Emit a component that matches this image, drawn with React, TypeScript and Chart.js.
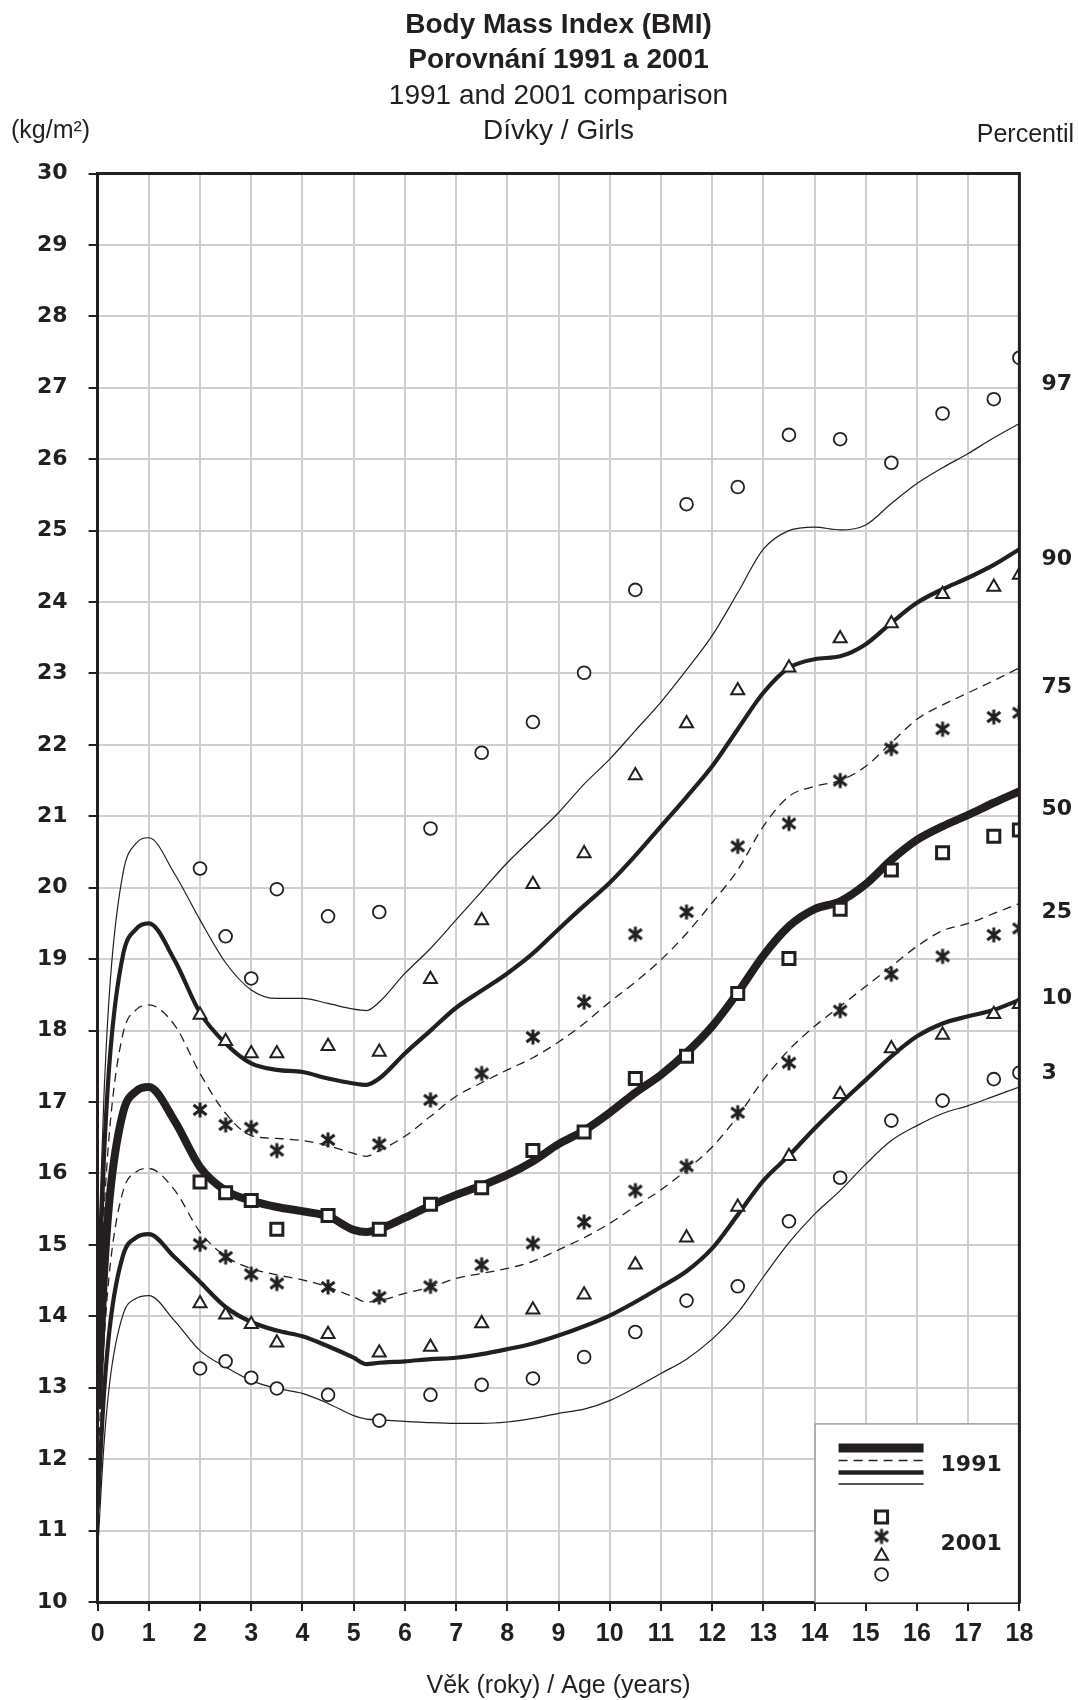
import React, { useEffect, useRef } from 'react';
import { Chart, registerables } from 'chart.js';

Chart.register(...registerables);

// ---------- DATA ----------
const ages1991 = [0, 0.125, 0.25, 0.5, 0.75, 1, 1.5, 2, 2.5, 3, 3.5, 4, 4.5, 5, 5.25, 5.5, 6, 6.5, 7, 7.5, 8, 8.5, 9, 9.5, 10, 10.5, 11, 11.5, 12, 12.5, 13, 13.5, 14, 14.5, 15, 15.5, 16, 16.5, 17, 17.5, 18];

const p97_1991 = [14.5, 17.1, 18.72, 20.22, 20.62, 20.7, 20.2, 19.55, 18.95, 18.57, 18.45, 18.45, 18.38, 18.3, 18.28, 18.4, 18.8, 19.15, 19.55, 19.95, 20.35, 20.7, 21.05, 21.45, 21.8, 22.2, 22.6, 23.05, 23.53, 24.13, 24.74, 25.0, 25.05, 25.01, 25.08, 25.38, 25.66, 25.88, 26.08, 26.3, 26.5];
const p90_1991 = [13.9, 16.25, 17.71, 19.07, 19.42, 19.5, 18.99, 18.25, 17.82, 17.54, 17.45, 17.42, 17.33, 17.26, 17.24, 17.33, 17.68, 18.0, 18.32, 18.56, 18.8, 19.08, 19.42, 19.75, 20.07, 20.45, 20.86, 21.27, 21.7, 22.22, 22.73, 23.08, 23.2, 23.24, 23.41, 23.71, 23.99, 24.18, 24.34, 24.52, 24.74];
const p75_1991 = [13.3, 15.43, 16.73, 17.97, 18.29, 18.36, 18.08, 17.4, 16.84, 16.53, 16.49, 16.46, 16.39, 16.28, 16.24, 16.32, 16.52, 16.8, 17.08, 17.27, 17.45, 17.62, 17.84, 18.1, 18.4, 18.68, 18.99, 19.36, 19.79, 20.25, 20.86, 21.28, 21.42, 21.5, 21.7, 22.03, 22.36, 22.56, 22.73, 22.9, 23.08];
const p50_1991 = [12.7, 14.59, 15.76, 16.86, 17.15, 17.21, 16.74, 16.09, 15.76, 15.62, 15.53, 15.47, 15.4, 15.21, 15.18, 15.22, 15.38, 15.55, 15.7, 15.83, 15.98, 16.17, 16.41, 16.6, 16.85, 17.13, 17.38, 17.69, 18.06, 18.53, 19.05, 19.46, 19.7, 19.81, 20.05, 20.39, 20.67, 20.86, 21.02, 21.19, 21.35];
const p25_1991 = [11.9, 13.65, 14.74, 15.76, 16.02, 16.07, 15.77, 15.18, 14.84, 14.67, 14.58, 14.51, 14.41, 14.27, 14.2, 14.22, 14.32, 14.41, 14.53, 14.6, 14.67, 14.77, 14.93, 15.1, 15.3, 15.54, 15.77, 16.05, 16.37, 16.8, 17.31, 17.73, 18.06, 18.34, 18.62, 18.9, 19.18, 19.4, 19.5, 19.64, 19.78];
const p10_1991 = [11.3, 12.92, 13.92, 14.86, 15.1, 15.15, 14.83, 14.48, 14.13, 13.92, 13.8, 13.72, 13.58, 13.42, 13.33, 13.35, 13.37, 13.4, 13.42, 13.47, 13.54, 13.62, 13.73, 13.86, 14.01, 14.2, 14.41, 14.63, 14.95, 15.42, 15.9, 16.25, 16.63, 16.98, 17.31, 17.64, 17.92, 18.1, 18.2, 18.29, 18.43];
const p3_1991 = [10.7, 12.21, 13.15, 14.03, 14.25, 14.29, 13.94, 13.52, 13.29, 13.1, 12.99, 12.92, 12.78, 12.61, 12.56, 12.55, 12.53, 12.51, 12.5, 12.5, 12.52, 12.57, 12.64, 12.7, 12.82, 13.0, 13.2, 13.4, 13.68, 14.05, 14.55, 15.03, 15.43, 15.76, 16.13, 16.46, 16.67, 16.84, 16.95, 17.08, 17.21];

const ages2001 = [2, 2.5, 3, 3.5, 4.5, 5.5, 6.5, 7.5, 8.5, 9.5, 10.5, 11.5, 12.5, 13.5, 14.5, 15.5, 16.5, 17.5, 18];
const p97_2001 = [20.27, 19.32, 18.73, 19.98, 19.6, 19.66, 20.83, 21.89, 22.32, 23.01, 24.17, 25.37, 25.61, 26.34, 26.28, 25.95, 26.64, 26.84, 27.42];
const p90_2001 = [18.22, 17.85, 17.68, 17.68, 17.78, 17.7, 18.72, 19.54, 20.05, 20.48, 21.57, 22.3, 22.76, 23.08, 23.49, 23.7, 24.11, 24.21, 24.38];
const p75_2001 = [16.89, 16.68, 16.64, 16.32, 16.47, 16.41, 17.03, 17.4, 17.91, 18.4, 19.35, 19.66, 20.58, 20.9, 21.5, 21.95, 22.22, 22.39, 22.45];
const p50_2001 = [15.88, 15.73, 15.62, 15.22, 15.41, 15.22, 15.57, 15.8, 16.32, 16.58, 17.33, 17.64, 18.52, 19.01, 19.7, 20.25, 20.49, 20.72, 20.81];
const p25_2001 = [15.01, 14.83, 14.59, 14.46, 14.41, 14.27, 14.42, 14.72, 15.02, 15.32, 15.76, 16.1, 16.85, 17.55, 18.28, 18.79, 19.04, 19.34, 19.43];
const p10_2001 = [14.18, 14.02, 13.89, 13.63, 13.75, 13.49, 13.57, 13.9, 14.09, 14.3, 14.72, 15.1, 15.53, 16.24, 17.11, 17.75, 17.94, 18.23, 18.37];
const p3_2001 = [13.27, 13.37, 13.14, 12.99, 12.9, 12.54, 12.9, 13.04, 13.13, 13.43, 13.78, 14.22, 14.42, 15.33, 15.94, 16.74, 17.02, 17.32, 17.41];

const percentileNames = ['97', '90', '75', '50', '25', '10', '3'];
const percentileLabelAt = [27.05, 24.6, 22.8, 21.1, 19.65, 18.45, 17.4];

const titleLines = ['Body Mass Index (BMI)', 'Porovnání 1991 a 2001', '1991 and 2001 comparison', 'Dívky / Girls'];
const yUnitLabel = '(kg/m²)';
const rightHeader = 'Percentil';
const xAxisLabel = 'Věk (roky) / Age (years)';
const legendYears = ['1991', '2001'];

// ---------- STYLE ----------
const INK = '#231f20';
const GRID = '#cfcfcf';
const W = 1078;
const H = 1700;

function pts(xs: number[], ys: number[]) {
  return xs.map((x, i) => ({ x, y: ys[i] }));
}

function makeStar(): HTMLCanvasElement {
  const c = document.createElement('canvas');
  c.width = 18;
  c.height = 18;
  const g = c.getContext('2d')!;
  g.strokeStyle = INK;
  g.lineWidth = 3;
  g.beginPath();
  g.moveTo(9, 1.5);
  g.lineTo(9, 16.5);
  g.moveTo(2.5, 4);
  g.lineTo(15.5, 14);
  g.moveTo(2.5, 14);
  g.lineTo(15.5, 4);
  g.stroke();
  return c;
}

function drawMarker(ctx: CanvasRenderingContext2D, kind: string, x: number, y: number, star: HTMLCanvasElement) {
  ctx.save();
  ctx.strokeStyle = INK;
  ctx.fillStyle = '#fff';
  if (kind === 'rect') {
    ctx.lineWidth = 3;
    ctx.beginPath();
    ctx.rect(x - 6, y - 6, 12, 12);
    ctx.fill();
    ctx.stroke();
  } else if (kind === 'star') {
    ctx.drawImage(star, x - 9, y - 9);
  } else if (kind === 'triangle') {
    const r = 7.5;
    ctx.lineWidth = 2;
    ctx.beginPath();
    ctx.moveTo(x, y - r);
    ctx.lineTo(x + r * 0.866, y + r * 0.5);
    ctx.lineTo(x - r * 0.866, y + r * 0.5);
    ctx.closePath();
    ctx.fill();
    ctx.stroke();
  } else {
    ctx.lineWidth = 1.8;
    ctx.beginPath();
    ctx.arc(x, y, 6.4, 0, Math.PI * 2);
    ctx.fill();
    ctx.stroke();
  }
  ctx.restore();
}

export default function App() {
  const ref = useRef<HTMLCanvasElement | null>(null);

  useEffect(() => {
    const canvas = ref.current;
    if (!canvas) return;
    const star = makeStar();

    const lineDs = (label: string, ys: number[], width: number, dash: number[] = []) => ({
      type: 'line' as const,
      label,
      data: pts(ages1991, ys),
      borderColor: INK,
      borderWidth: width,
      borderDash: dash,
      pointRadius: 0,
      fill: false,
      cubicInterpolationMode: 'monotone' as const,
      order: 1,
      borderCapStyle: 'butt' as const,
    });

    const markDs = (label: string, ys: number[], style: any, radius: number, bw: number) => ({
      type: 'line' as const,
      label,
      data: pts(ages2001, ys),
      showLine: false,
      pointStyle: style,
      pointRadius: radius,
      pointBorderWidth: bw,
      pointBorderColor: INK,
      pointBackgroundColor: '#ffffff',
      order: 0,
    });

    const overlay = {
      id: 'overlay',
      afterDatasetsDraw(chart: any) {
        const { ctx, chartArea: a, scales } = chart;
        const xs = scales.x;
        const ys = scales.y;
        ctx.save();

        // legend box anchored at age 14 / BMI 12.5
        const bx = xs.getPixelForValue(14);
        const by = ys.getPixelForValue(12.5);
        ctx.fillStyle = '#ffffff';
        ctx.fillRect(bx, by, a.right - bx, a.bottom - by);
        ctx.strokeStyle = '#6e6e6e';
        ctx.lineWidth = 1;
        ctx.strokeRect(bx + 0.5, by + 0.5, a.right - bx, a.bottom - by);

        const lx0 = bx + 24;
        const lx1 = bx + 109;
        const legendLines = [
          { dy: 24.5, w: 9, dash: [] as number[] },
          { dy: 37, w: 1.4, dash: [9, 6] },
          { dy: 49, w: 4.5, dash: [] as number[] },
          { dy: 60.5, w: 1.5, dash: [] as number[] },
        ];
        ctx.strokeStyle = INK;
        ctx.lineCap = 'butt';
        legendLines.forEach((l) => {
          ctx.lineWidth = l.w;
          ctx.setLineDash(l.dash);
          ctx.beginPath();
          ctx.moveTo(lx0, by + l.dy);
          ctx.lineTo(lx1, by + l.dy);
          ctx.stroke();
        });
        ctx.setLineDash([]);
        ctx.fillStyle = INK;
        ctx.font = 'bold 22px "DejaVu Sans"';
        ctx.textAlign = 'left';
        ctx.textBaseline = 'middle';
        ctx.fillText(legendYears[0], bx + 126, by + 42);
        ctx.fillText(legendYears[1], bx + 126, by + 121);
        const mk = ['rect', 'star', 'triangle', 'circle'];
        const mdy = [93.5, 113, 132.5, 151];
        mk.forEach((k, i) => drawMarker(ctx, k, bx + 67, by + mdy[i], star));

        // frame: top and right border
        ctx.strokeStyle = INK;
        ctx.lineWidth = 3;
        ctx.beginPath();
        ctx.moveTo(a.left - 1.5, a.top);
        ctx.lineTo(a.right, a.top);
        ctx.lineTo(a.right, a.bottom + 1.5);
        ctx.stroke();

        // percentile labels on the right
        ctx.fillStyle = INK;
        ctx.font = 'bold 22px "DejaVu Sans"';
        ctx.textAlign = 'left';
        ctx.textBaseline = 'middle';
        percentileNames.forEach((n, i) => {
          ctx.fillText(n, a.right + 22, ys.getPixelForValue(percentileLabelAt[i]));
        });

        // titles
        const cx = (a.left + a.right) / 2;
        ctx.textAlign = 'center';
        ctx.font = 'bold 28px "Liberation Sans", Arial, sans-serif';
        ctx.fillText(titleLines[0], cx, 25);
        ctx.fillText(titleLines[1], cx, 60);
        ctx.font = '28px "Liberation Sans", Arial, sans-serif';
        ctx.fillText(titleLines[2], cx, 96);
        ctx.fillText(titleLines[3], cx, 131);

        ctx.font = '25px "Liberation Sans", Arial, sans-serif';
        ctx.textAlign = 'left';
        ctx.fillText(yUnitLabel, 11, 131);
        ctx.textAlign = 'right';
        ctx.fillText(rightHeader, 1074, 135);
        ctx.textAlign = 'center';
        ctx.fillText(xAxisLabel, cx, 1686);

        ctx.restore();
      },
    };

    const chart = new Chart(canvas, {
      type: 'line',
      data: {
        datasets: [
          markDs('P97 2001', p97_2001, 'circle', 6.4, 1.8),
          markDs('P90 2001', p90_2001, 'triangle', 7.5, 2),
          markDs('P75 2001', p75_2001, star, 9, 0),
          markDs('P50 2001', p50_2001, 'rect', 8.5, 3),
          markDs('P25 2001', p25_2001, star, 9, 0),
          markDs('P10 2001', p10_2001, 'triangle', 7.5, 2),
          markDs('P3 2001', p3_2001, 'circle', 6.4, 1.8),
          lineDs('P97 1991', p97_1991, 1.2),
          lineDs('P90 1991', p90_1991, 4.2),
          lineDs('P75 1991', p75_1991, 1.3, [9, 6]),
          lineDs('P50 1991', p50_1991, 8),
          lineDs('P25 1991', p25_1991, 1.3, [9, 6]),
          lineDs('P10 1991', p10_1991, 4.2),
          lineDs('P3 1991', p3_1991, 1.2),
        ] as any,
      },
      options: {
        responsive: false,
        animation: false,
        devicePixelRatio: 1,
        layout: { padding: { left: 0, right: 58.6, top: 173.5, bottom: 0 } },
        plugins: {
          legend: { display: false },
          tooltip: { enabled: false },
          title: { display: false },
        },
        scales: {
          x: {
            type: 'linear',
            min: 0,
            max: 18,
            ticks: {
              stepSize: 1,
              color: INK,
              padding: 8,
              font: { family: '"Liberation Sans", Arial, sans-serif', size: 25, weight: 'bold' },
            },
            grid: { color: GRID, lineWidth: 2, tickColor: INK, tickWidth: 2, tickLength: 9 },
            border: { display: true, color: INK, width: 3 },
            afterFit: (s: any) => { s.height = 98; },
          },
          y: {
            type: 'linear',
            min: 10,
            max: 30,
            ticks: {
              stepSize: 1,
              color: INK,
              padding: 21,
              font: { family: '"DejaVu Sans"', size: 22, weight: 'bold' },
            },
            grid: { color: GRID, lineWidth: 2, tickColor: INK, tickWidth: 2, tickLength: 9 },
            border: { display: true, color: INK, width: 3 },
            afterFit: (s: any) => { s.width = 97.6; },
          },
        },
      } as any,
      plugins: [overlay],
    });

    return () => chart.destroy();
  }, []);

  return (
    <div style={{ position: 'absolute', left: 0, top: 0, width: W, height: H, background: '#fff' }}>
      <canvas ref={ref} width={W} height={H} style={{ display: 'block' }} />
    </div>
  );
}
